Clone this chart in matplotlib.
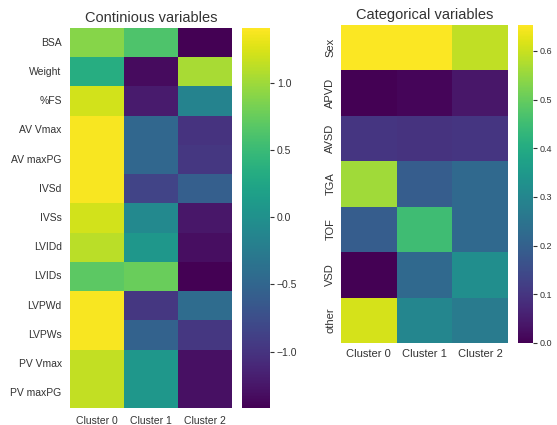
import numpy as np
import pandas as pd
import matplotlib
matplotlib.use("Agg")
import matplotlib.pyplot as plt
import seaborn as sns

# Clusters e variaveis
clusters = ["Cluster 0", "Cluster 1", "Cluster 2"]

vars_cont = ["BSA", "Weight", "%FS", "AV Vmax", "AV maxPG", "IVSd", "IVSs",
             "LVIDd", "LVIDs", "LVPWd", "LVPWs", "PV Vmax", "PV maxPG"]
cluster0_cont = [0.90, 0.34, 1.22, 1.38, 1.38, 1.38, 1.22, 1.12, 0.70, 1.38, 1.38, 1.15, 1.15]
cluster1_cont = [0.62, -1.34, -1.22, -0.49, -0.49, -0.85, -0.09, 0.08, 0.76, -0.97, -0.54, 0.08, 0.08]
cluster2_cont = [-1.42, 1.04, -0.15, -1.00, -0.97, -0.57, -1.25, -1.31, -1.42, -0.43, -0.97, -1.30, -1.30]

vars_cat = ["Sex", "APVD", "AVSD", "TGA", "TOF", "VSD", "other"]
cluster0_cat = [0.65, 0.000, 0.100, 0.56, 0.19, 0.00, 0.61]
cluster1_cat = [0.65, 0.010, 0.095, 0.19, 0.45, 0.22, 0.30]
cluster2_cat = [0.59, 0.040, 0.100, 0.22, 0.22, 0.32, 0.27]

df_cont = pd.DataFrame({"Cluster 0": cluster0_cont, "Cluster 1": cluster1_cont,
                        "Cluster 2": cluster2_cont}, index=vars_cont)
df_cat = pd.DataFrame({"Cluster 0": cluster0_cat, "Cluster 1": cluster1_cat,
                       "Cluster 2": cluster2_cat}, index=vars_cat)

sns.set_style("white")
plt.rcParams["font.family"] = ["Liberation Sans", "DejaVu Sans"]
plt.rcParams["text.color"] = "#333333"
plt.rcParams["xtick.color"] = "#333333"
plt.rcParams["ytick.color"] = "#333333"

W, H = 557, 425
fig = plt.figure(figsize=(W / 100, H / 100), dpi=100)

def box(x0, y0, x1, y1):
    return [x0 / W, 1 - y1 / H, (x1 - x0) / W, (y1 - y0) / H]

ax1 = fig.add_axes(box(70, 28, 232, 408))
cax1 = fig.add_axes(box(242, 28, 270, 408))
ax2 = fig.add_axes(box(341, 25, 508, 343))
cax2 = fig.add_axes(box(518, 25, 533, 343))

# Variaveis continuas
sns.heatmap(df_cont, ax=ax1, cbar_ax=cax1, cmap="viridis", vmin=-1.42, vmax=1.41)
ax1.set_title("Continious variables", fontsize=10.5, pad=4)
ax1.set_yticklabels(vars_cont, rotation=0, fontsize=7.5)
ax1.set_xticklabels(clusters, rotation=0, fontsize=7.5)
ax1.tick_params(length=0, pad=6)
cax1.set_yticks([-1.0, -0.5, 0.0, 0.5, 1.0])
cax1.tick_params(length=3, width=0.8, labelsize=7.5, pad=2)

# Variaveis categoricas
sns.heatmap(df_cat, ax=ax2, cbar_ax=cax2, cmap="viridis", vmin=0.0, vmax=0.653)
ax2.set_title("Categorical variables", fontsize=10.5, pad=4)
ax2.set_yticklabels(vars_cat, rotation=90, va="center", fontsize=8)
ax2.set_xticklabels(clusters, rotation=0, fontsize=8)
ax2.tick_params(length=0, pad=4)
cax2.set_yticks([0.0, 0.1, 0.2, 0.3, 0.4, 0.5, 0.6])
cax2.tick_params(length=3, width=0.8, labelsize=6.5, pad=2)

fig.savefig("out.png", dpi=100)
